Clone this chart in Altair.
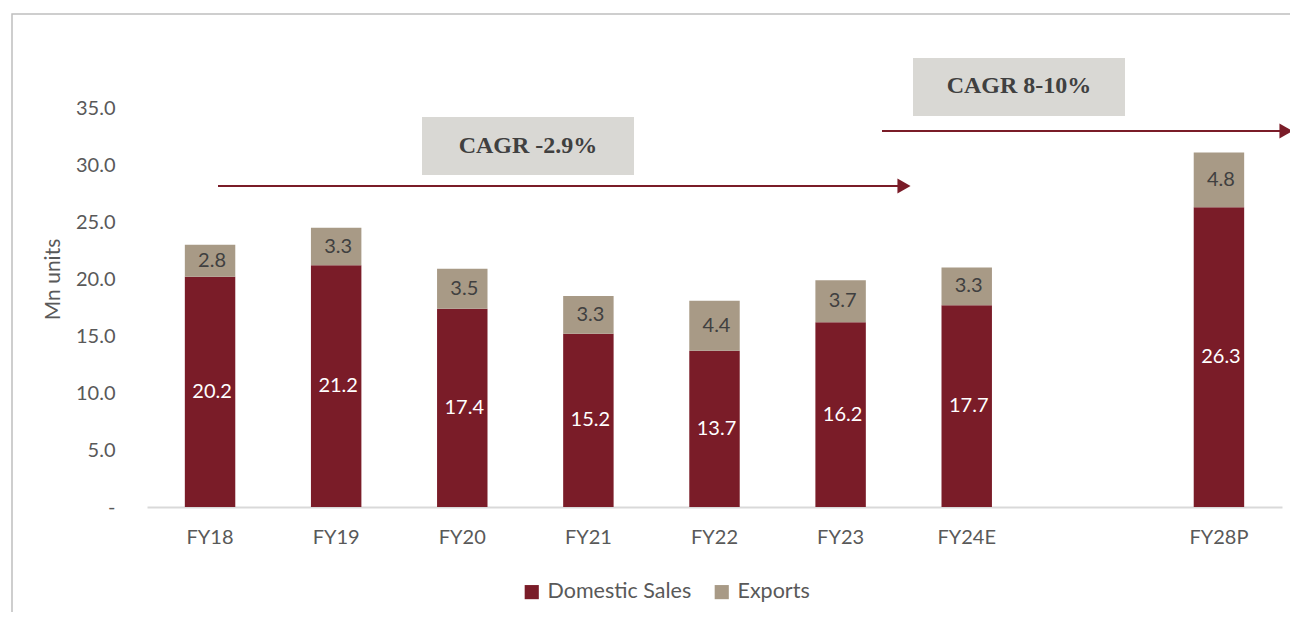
import altair as alt
import pandas as pd

categories = ["FY18", "FY19", "FY20", "FY21", "FY22", "FY23", "FY24E", " ", "FY28P"]
years = ["FY18", "FY19", "FY20", "FY21", "FY22", "FY23", "FY24E", "FY28P"]
domestic = [20.2, 21.2, 17.4, 15.2, 13.7, 16.2, 17.7, 26.3]
exports = [2.8, 3.3, 3.5, 3.3, 4.4, 3.7, 3.3, 4.8]
series = ["Domestic Sales", "Exports"]
colors = ["#7A1C28", "#A89A86"]
y_ticks = [0, 5, 10, 15, 20, 25, 30, 35]
cagr_labels = ["CAGR -2.9%", "CAGR 8-10%"]

rows = []
for i, yr in enumerate(years):
    rows.append({"year": yr, "series": series[0], "value": domestic[i], "order": 0})
    rows.append({"year": yr, "series": series[1], "value": exports[i], "order": 1})
df = pd.DataFrame(rows)

FONT = "Lato"
GREY = "#595959"

base = alt.Chart(df).transform_stack(
    stack="value", groupby=["year"], as_=["y0", "y1"],
    sort=[alt.SortField("order", "ascending")]
).transform_calculate(mid="(datum.y0 + datum.y1) / 2")

xenc = alt.X("year:N", sort=categories,
             scale=alt.Scale(domain=categories, paddingInner=0.6, paddingOuter=0.3),
             axis=alt.Axis(title=None, labelAngle=0, ticks=False, domainColor="#D9D9D9",
                           domainWidth=2, labelFont=FONT, labelFontSize=20,
                           labelColor=GREY, labelPadding=20))
yscale = alt.Scale(domain=[0, 40], nice=False)

bars = base.mark_bar().encode(
    x=xenc,
    y=alt.Y("y0:Q", scale=yscale,
            axis=alt.Axis(values=y_ticks, grid=False, domain=False, ticks=False,
                          labelExpr="datum.value == 0 ? '-' : format(datum.value, '.1f')",
                          labelFont=FONT, labelFontSize=20, labelColor=GREY, labelPadding=32,
                          title="Mn units", titleFont=FONT, titleFontSize=21,
                          titleFontWeight="normal", titleColor=GREY, titlePadding=12)),
    y2="y1:Q",
    color=alt.Color("series:N", scale=alt.Scale(domain=series, range=colors),
                    legend=alt.Legend(title=None, orient="none", direction="horizontal",
                                      legendX=374, legendY=530, symbolType="square",
                                      symbolSize=200, symbolStrokeWidth=0,
                                      labelFont=FONT, labelFontSize=21.5, labelColor=GREY,
                                      labelOffset=5, columnPadding=19)),
)

labels = base.mark_text(font=FONT, fontSize=20, align="center", baseline="middle", dx=2).encode(
    x=alt.X("year:N", sort=categories),
    y=alt.Y("mid:Q"),
    text=alt.Text("value:Q", format=".1f"),
    color=alt.condition("datum.series == 'Domestic Sales'", alt.value("white"), alt.value("#404040")),
)

one = pd.DataFrame({"k": [0]})
ARROW = "#7A1C28"

border = alt.Chart(one).mark_rect(filled=False, stroke="#BFBFBF", strokeWidth=1.5, clip=False).encode(
    x=alt.value(-135), x2=alt.value(1200), y=alt.value(-37), y2=alt.value(700))

rule1 = alt.Chart(one).mark_rule(color=ARROW, strokeWidth=2.2).encode(
    x=alt.value(71), x2=alt.value(752), y=alt.value(135))
head1 = alt.Chart(one).mark_point(shape="triangle-right", filled=True, color=ARROW, size=230, opacity=1).encode(
    x=alt.value(757), y=alt.value(135))
rule2 = alt.Chart(one).mark_rule(color=ARROW, strokeWidth=2.2).encode(
    x=alt.value(735), x2=alt.value(1136), y=alt.value(80))
head2 = alt.Chart(one).mark_point(shape="triangle-right", filled=True, color=ARROW, size=230, opacity=1).encode(
    x=alt.value(1139), y=alt.value(80))

box1 = alt.Chart(one).mark_rect(color="#D9D8D4").encode(
    x=alt.value(275), x2=alt.value(487), y=alt.value(66), y2=alt.value(124))
box2 = alt.Chart(one).mark_rect(color="#D9D8D4").encode(
    x=alt.value(766), x2=alt.value(978), y=alt.value(7), y2=alt.value(65))
txt1 = alt.Chart(one).mark_text(font="Liberation Serif", fontWeight="bold", fontSize=24,
                                color="#404040", align="center", baseline="middle").encode(
    x=alt.value(381), y=alt.value(95), text=alt.value(cagr_labels[0]))
txt2 = alt.Chart(one).mark_text(font="Liberation Serif", fontWeight="bold", fontSize=24,
                                color="#404040", align="center", baseline="middle").encode(
    x=alt.value(872), y=alt.value(35), text=alt.value(cagr_labels[1]))

chart = alt.layer(border, bars, labels, rule1, head1, rule2, head2, box1, box2, txt1, txt2).properties(
    width=1135, height=456,
    autosize=alt.AutoSizeParams(type="none"),
    padding={"left": 139, "top": 43, "right": 8, "bottom": 105},
    background="white",
).configure_view(stroke="transparent", strokeWidth=0)

chart.save("out.html", embed_options={"renderer": "svg", "actions": False})
